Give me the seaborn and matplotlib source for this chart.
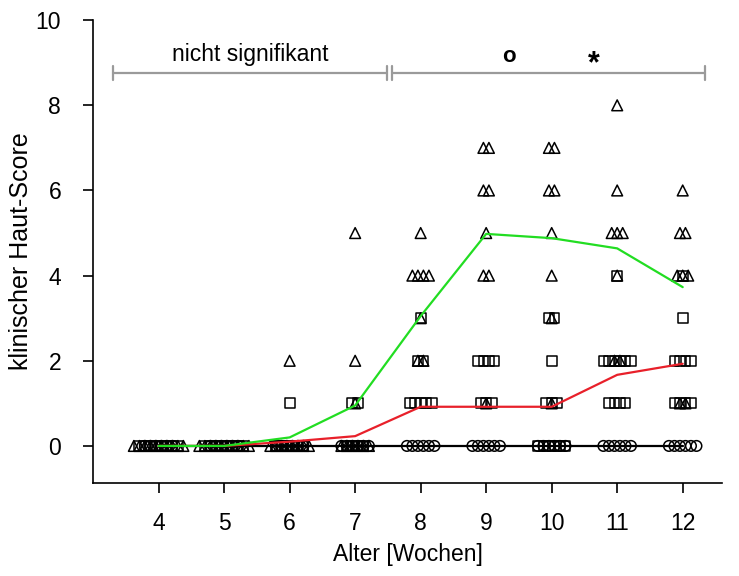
import numpy as np
import pandas as pd
import matplotlib
matplotlib.use("Agg")
import matplotlib.pyplot as plt
import seaborn as sns

sns.set_style("ticks")
plt.rcParams["font.family"] = ["Liberation Sans", "DejaVu Sans"]
plt.rcParams["text.color"] = "black"
plt.rcParams["axes.labelcolor"] = "black"
plt.rcParams["xtick.color"] = "black"
plt.rcParams["ytick.color"] = "black"
plt.rcParams["axes.edgecolor"] = "black"

# Study weeks (age in weeks)
weeks = [4, 5, 6, 7, 8, 9, 10, 11, 12]

# Individual clinical skin scores per week for the three groups
circle_scores = [
    [0] * 6, [0] * 6, [0] * 6, [0] * 6,
    [0] * 6, [0] * 6, [0] * 6, [0] * 6, [0] * 6,
]
square_scores = [
    [0] * 8,
    [0] * 8,
    [1, 0, 0, 0, 0, 0, 0],
    [1, 1, 0, 0, 0, 0],
    [3, 2, 2, 1, 1, 1, 1, 1],
    [2, 2, 2, 2, 1, 1, 1],
    [3, 3, 2, 1, 1, 1, 0, 0, 0, 0, 0, 0],
    [4, 2, 2, 2, 2, 2, 2, 1, 1, 1, 1],
    [4, 3, 2, 2, 2, 2, 1, 1, 1, 1],
]
triangle_scores = [
    [0] * 10,
    [0] * 10,
    [2, 0, 0, 0, 0, 0, 0, 0, 0],
    [5, 2, 1, 0, 0, 0, 0, 0, 0],
    [5, 4, 4, 4, 4, 3, 2, 2],
    [7, 7, 6, 6, 5, 4, 4, 1],
    [7, 7, 6, 6, 5, 4, 3, 1],
    [8, 6, 5, 5, 5, 4, 2, 2],
    [6, 5, 5, 4, 4, 4, 1, 1],
]

# Group means per week
circle_mean = [0, 0, 0, 0, 0, 0, 0, 0, 0]
square_mean = [0, 0, 0.1, 0.23, 0.92, 0.92, 0.92, 1.67, 1.93]
triangle_mean = [0, 0, 0.2, 0.95, 3.05, 4.98, 4.88, 4.64, 3.73]

# Significance annotations
spans = [(3.31, 7.48), (7.57, 12.34)]
span_y = 8.76

STEP = 0.084  # horizontal spacing between tied scores


def spread(scores):
    rows = []
    for wk, vals in zip(weeks, scores):
        vals = np.asarray(vals)
        for v in np.unique(vals):
            n = int((vals == v).sum())
            offs = (np.arange(n) - (n - 1) / 2) * STEP
            for o in offs:
                rows.append((wk + o, v))
    return pd.DataFrame(rows, columns=["x", "score"])


fig = plt.figure(figsize=(7.39, 5.76), dpi=100)
ax = fig.add_axes([0.126, 0.1615, 0.851, 0.8035])

# Mean lines
means = pd.DataFrame({"week": weeks, "circle": circle_mean,
                      "square": square_mean, "triangle": triangle_mean})
sns.lineplot(data=means, x="week", y="circle", color="black", lw=1.6, ax=ax, zorder=1)
sns.lineplot(data=means, x="week", y="square", color="#e8202a", lw=1.6, ax=ax, zorder=4)
sns.lineplot(data=means, x="week", y="triangle", color="#22dd22", lw=1.6, ax=ax, zorder=4)

# Individual scores
for scores, mk, size in [(circle_scores, "o", 58),
                         (square_scores, "s", 50),
                         (triangle_scores, "^", 60)]:
    d = spread(scores)
    sns.scatterplot(data=d, x="x", y="score", marker=mk, s=size,
                    facecolors="none", edgecolors="black", linewidth=1.1,
                    ax=ax, zorder=3, legend=False)

# Significance brackets
for x0, x1 in spans:
    ax.plot([x0, x1], [span_y, span_y], color="#9a9a9a", lw=1.6, zorder=2)
    for xe in (x0, x1):
        ax.plot([xe, xe], [span_y - 0.17, span_y + 0.17], color="#9a9a9a", lw=1.6, zorder=2)
ax.text(5.4, 8.93, "nicht signifikant", ha="center", va="bottom", fontsize=16.5)
ax.text(9.34, 9.14, "o", ha="center", va="center", fontsize=16, fontweight="bold")
ax.text(10.65, 8.96, "*", ha="center", va="center", fontsize=22, fontweight="bold")

ax.set_xlim(3.0, 12.6)
ax.set_ylim(-0.87, 10)
ax.set_xticks(weeks)
ax.set_yticks([0, 2, 4, 6, 8, 10])
ax.tick_params(axis="both", labelsize=16.5, direction="out", length=7, width=1.2)
ax.tick_params(axis="x", pad=14)
ax.tick_params(axis="y", pad=16)
ax.set_xlabel("Alter [Wochen]", fontsize=16.5, labelpad=6)
ax.set_ylabel("klinischer Haut-Score", fontsize=18, labelpad=2)
for s in ("top", "right"):
    ax.spines[s].set_visible(False)
for s in ("left", "bottom"):
    ax.spines[s].set_linewidth(1.2)

fig.savefig("out.png", dpi=100)
